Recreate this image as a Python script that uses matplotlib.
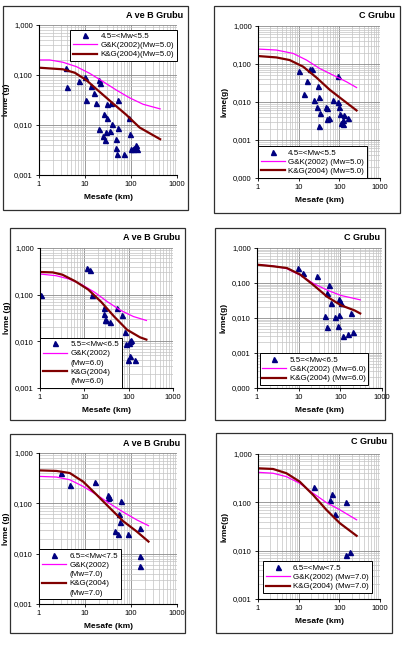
import numpy as np
import matplotlib
matplotlib.use('Agg')
import matplotlib.pyplot as plt
from matplotlib.patches import Rectangle
from matplotlib.lines import Line2D
from matplotlib.ticker import FixedLocator, NullFormatter, LogLocator

plt.rcParams['font.family'] = ['Liberation Sans', 'DejaVu Sans']

W, H = 419, 645

## data
# panel 1: A ve B grubu, 4.5=<Mw<5.5
p1_dist = [3.9, 4.1, 7.4, 9.8, 10.3, 13.7, 15.7, 17.6, 19.8, 21.5, 19.9, 25.5, 24.6, 26.7,
           29, 30, 30.5, 34.4, 36, 38.5, 46.4, 48, 49.6, 52, 52, 69, 90.5, 93, 100, 110,
           119, 130, 137]
p1_pga = [0.140, 0.057, 0.076, 0.090, 0.031, 0.060, 0.044, 0.028, 0.079, 0.070, 0.0082,
          0.0163, 0.0060, 0.0050, 0.0074, 0.026, 0.014, 0.0075, 0.027, 0.0105, 0.0052,
          0.0034, 0.0026, 0.0086, 0.0316, 0.0026, 0.0136, 0.0066, 0.0033, 0.0033, 0.0034,
          0.0039, 0.0033]
p1_gk_d = [1, 1.7, 3.3, 6.5, 12.6, 24.6, 48, 93, 183, 430]
p1_gk_a = [0.200, 0.200, 0.180, 0.147, 0.108, 0.074, 0.050, 0.035, 0.026, 0.021]
p1_kg_d = [1, 3.3, 6, 10.7, 20.8, 40.5, 79, 154, 430]
p1_kg_a = [0.140, 0.130, 0.111, 0.079, 0.046, 0.027, 0.016, 0.0089, 0.0052]

# panel 2: C grubu, 4.5=<Mw<5.5
p2_dist = [10.3, 13.6, 16.2, 19.5, 21.8, 23.5, 30, 29, 32, 33, 32, 46, 50, 50, 56, 70, 94,
           94, 98, 103, 109, 124, 130, 120, 165]
p2_pga = [0.066, 0.0158, 0.035, 0.072, 0.073, 0.0116, 0.026, 0.0075, 0.0137, 0.0050, 0.0024,
          0.0072, 0.0068, 0.0035, 0.0037, 0.0112, 0.049, 0.0101, 0.0075, 0.0048, 0.0028,
          0.0026, 0.0045, 0.0033, 0.0039]
p2_gk_d = [1, 2.83, 7.3, 15.6, 33, 70, 150, 265]
p2_gk_a = [0.247, 0.233, 0.190, 0.127, 0.076, 0.051, 0.034, 0.024]
p2_kg_d = [1, 2.83, 6.0, 12.9, 27.4, 58, 124, 265]
p2_kg_a = [0.162, 0.149, 0.127, 0.085, 0.044, 0.021, 0.0112, 0.0060]

# panel 3: A ve B grubu, 5.5=<Mw<6.5
p3_dist = [1.05, 11.3, 13.4, 15.1, 27.5, 27.5, 29.4, 31, 37.7, 55, 57, 71, 84, 89, 100,
           108, 113, 96, 105, 140]
p3_pga = [0.100, 0.373, 0.340, 0.100, 0.053, 0.0385, 0.029, 0.028, 0.0255, 0.053, 0.0103,
          0.036, 0.0158, 0.0089, 0.0092, 0.0101, 0.0108, 0.0040, 0.0048, 0.0040]
p3_gk_d = [1, 2.3, 4.5, 8.8, 17.2, 33.6, 66, 128, 251]
p3_gk_a = [0.277, 0.255, 0.217, 0.164, 0.112, 0.070, 0.046, 0.034, 0.028]
p3_kg_d = [1, 1.95, 3.2, 6.3, 12.3, 24, 47, 92, 180, 251]
p3_kg_a = [0.306, 0.300, 0.268, 0.193, 0.128, 0.070, 0.034, 0.0177, 0.0122, 0.0109]

# panel 4: C grubu, 5.5=<Mw<6.5
p4_dist = [9.6, 12.7, 27, 49, 54, 59, 42, 47, 75, 94, 89, 91, 104, 114, 150, 182, 200]
p4_pga = [0.274, 0.193, 0.155, 0.053, 0.090, 0.0274, 0.0112, 0.0055, 0.0107, 0.0125, 0.0059,
          0.034, 0.0274, 0.0031, 0.0034, 0.0142, 0.0040]
p4_gk_d = [1, 2.45, 5.2, 11, 23, 49, 104, 219, 300]
p4_gk_a = [0.334, 0.306, 0.257, 0.166, 0.096, 0.062, 0.044, 0.036, 0.033]
p4_kg_d = [1, 2.45, 5.2, 11, 23, 49, 104, 219, 300]
p4_kg_a = [0.334, 0.300, 0.268, 0.173, 0.086, 0.040, 0.023, 0.0165, 0.0135]

# panel 5: A ve B grubu, 6.5=<Mw<7.5
p5_dist = [3.07, 4.67, 16.5, 32, 33, 31, 60, 56, 58, 45, 51, 88, 158, 158, 158]
p5_pga = [0.400, 0.227, 0.264, 0.144, 0.133, 0.125, 0.109, 0.061, 0.0417, 0.0276, 0.0248,
          0.0242, 0.033, 0.0088, 0.0057]
p5_gk_d = [1, 2.4, 4.67, 9.1, 17.9, 35, 68, 133, 240]
p5_gk_a = [0.343, 0.333, 0.294, 0.217, 0.148, 0.098, 0.067, 0.047, 0.036]
p5_kg_d = [1, 2.4, 4.67, 9.1, 17.9, 35, 68, 133, 240]
p5_kg_a = [0.452, 0.440, 0.400, 0.270, 0.148, 0.080, 0.044, 0.0276, 0.0174]

# panel 6: C grubu, 6.5=<Mw<7.5
p6_dist = [24, 60, 66, 78, 145, 150, 182]
p6_pga = [0.211, 0.112, 0.147, 0.058, 0.104, 0.0081, 0.0095]
p6_gk_d = [1, 2.34, 5.0, 10.6, 22.7, 48, 103, 266]
p6_gk_a = [0.418, 0.400, 0.340, 0.248, 0.154, 0.099, 0.070, 0.0435]
p6_kg_d = [1, 2.34, 5.0, 10.6, 22.7, 48, 103, 266]
p6_kg_a = [0.506, 0.490, 0.400, 0.268, 0.142, 0.070, 0.037, 0.0203]

ytick_vals = [0.0001, 0.001, 0.01, 0.1, 1.0]
ytick_lbls = ['0,000', '0,001', '0,010', '0,100', '1,000']

fig = plt.figure(figsize=(W / 100, H / 100), dpi=100)
fig.patch.set_facecolor('white')


def panel(box, plot, title, ylab, ymin, pts, gk, kg, labels, leg_loc, leg_anchor):
    # chart area border
    bx0, by0, bx1, by1 = box
    fig.patches.append(Rectangle((bx0 / W, 1 - by1 / H), (bx1 - bx0) / W, (by1 - by0) / H,
                                 transform=fig.transFigure, fill=False,
                                 ec='#303030', lw=0.9))
    x0, x1, yt, yb = plot
    ax = fig.add_axes([x0 / W, 1 - yb / H, (x1 - x0) / W, (yb - yt) / H])
    ax.set_xscale('log'), ax.set_yscale('log')
    ax.set_xlim(1, 1000), ax.set_ylim(ymin, 1.0)

    h_pts, = ax.plot(*pts, ls='none', marker='^', ms=3.6, color='#000080')
    h_gk, = ax.plot(*gk, color='#ff00ff', lw=0.9)
    h_kg, = ax.plot(*kg, color='#800000', lw=1.6)

    # ticks & grid
    ax.xaxis.set_major_locator(FixedLocator([1, 10, 100, 1000]))
    ax.set_xticklabels(['1', '10', '100', '1000'])
    yv = [v for v in ytick_vals if v >= ymin * 0.99]
    ax.yaxis.set_major_locator(FixedLocator(yv))
    ax.set_yticklabels([ytick_lbls[ytick_vals.index(v)] for v in yv])
    ax.xaxis.set_minor_locator(LogLocator(base=10, subs=np.arange(2, 10)))
    ax.yaxis.set_minor_locator(LogLocator(base=10, subs=np.arange(2, 10)))
    ax.xaxis.set_minor_formatter(NullFormatter())
    ax.yaxis.set_minor_formatter(NullFormatter())
    ax.tick_params(which='major', labelsize=5.5, length=2.5, width=0.6, pad=2)
    ax.tick_params(which='minor', length=0)
    ax.grid(which='major', color='#8a8a8a', lw=0.6)
    ax.grid(which='minor', color='#c4c4c4', lw=0.5)
    ax.set_axisbelow(True)
    for s in ['top', 'right']:
        ax.spines[s].set_visible(False)
    for s in ['left', 'bottom']:
        ax.spines[s].set_linewidth(0.8)

    ax.set_xlabel('Mesafe (km)', fontsize=6, fontweight='bold', labelpad=4)
    ax.set_ylabel(ylab, fontsize=6, fontweight='bold', labelpad=3)
    fig.text((bx1 - 5) / W, 1 - (by0 + 9) / H, title, fontsize=6.5, fontweight='bold',
             ha='right', va='center')

    # legend: two-line labels get the handle on the first line
    handles, texts = [], []
    for h, lbl in zip([h_pts, h_gk, h_kg], labels):
        lines = lbl.split('\n')
        handles.append(h), texts.append(lines[0])
        for extra in lines[1:]:
            handles.append(Line2D([], [], ls='none')), texts.append(extra)
    leg = ax.legend(handles, texts, loc=leg_loc, bbox_to_anchor=leg_anchor, fontsize=5.8,
                    frameon=True, fancybox=False, edgecolor='black', framealpha=1,
                    borderpad=0.35, handlelength=3.0, handletextpad=0.4,
                    labelspacing=0.2, borderaxespad=0, numpoints=1)
    leg.get_frame().set_linewidth(0.7)
    return ax


panel((3, 6, 188, 210), (39, 177, 25, 175), 'A ve B Grubu', 'İvme (g)', 0.001,
      (p1_dist, p1_pga), (p1_gk_d, p1_gk_a), (p1_kg_d, p1_kg_a),
      ['4.5=<Mw<5.5', 'G&K(2002)(Mw=5.0)', 'K&G(2004)(Mw=5.0)'],
      'upper right', (1.0, 0.97))
panel((214, 6, 400, 213), (258, 380, 26, 178), 'C Grubu', 'İvme(g)', 0.0001,
      (p2_dist, p2_pga), (p2_gk_d, p2_gk_a), (p2_kg_d, p2_kg_a),
      ['4.5=<Mw<5.5', 'G&K(2002) (Mw=5.0)', 'K&G(2004) (Mw=5.0)'],
      'lower left', (0.0, 0.0))
panel((10, 228, 185, 420), (40, 173, 248, 388), 'A ve B Grubu', 'İvme (g)', 0.001,
      (p3_dist, p3_pga), (p3_gk_d, p3_gk_a), (p3_kg_d, p3_kg_a),
      ['5.5=<Mw<6.5', 'G&K(2002)\n(Mw=6.0)', 'K&G(2004)\n(Mw=6.0)'],
      'lower left', (0.0, 0.0))
panel((215, 228, 385, 420), (257, 382, 248, 388), 'C Grubu', 'İvme(g)', 0.0001,
      (p4_dist, p4_pga), (p4_gk_d, p4_gk_a), (p4_kg_d, p4_kg_a),
      ['5.5=<Mw<6.5', 'G&K(2002) (Mw=6.0)', 'K&G(2004) (Mw=6.0)'],
      'lower left', (0.02, 0.02))
panel((10, 434, 185, 633), (39, 177, 453, 604), 'A ve B Grubu', 'İvme (g)', 0.001,
      (p5_dist, p5_pga), (p5_gk_d, p5_gk_a), (p5_kg_d, p5_kg_a),
      ['6.5=<Mw<7.5', 'G&K(2002)\n(Mw=7.0)', 'K&G(2004)\n(Mw=7.0)'],
      'lower left', (0.0, 0.03))
panel((216, 433, 392, 633), (258, 380, 454, 599), 'C Grubu', 'İvme(g)', 0.001,
      (p6_dist, p6_pga), (p6_gk_d, p6_gk_a), (p6_kg_d, p6_kg_a),
      ['6.5=<Mw<7.5', 'G&K(2002) (Mw=7.0)', 'K&G(2004) (Mw=7.0)'],
      'lower left', (0.04, 0.04))

fig.savefig('out.png', dpi=100)
